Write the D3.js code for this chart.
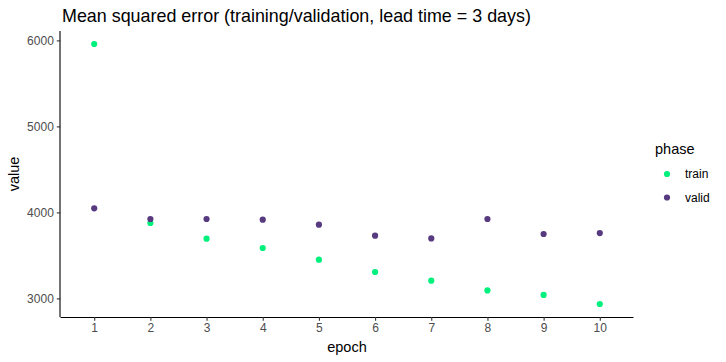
<!DOCTYPE html>
<html>
<head>
<meta charset="utf-8">
<script src="https://cdn.jsdelivr.net/npm/d3@7"></script>
<style>
  body { margin: 0; background: #fff; }
  svg text { font-family: "Liberation Sans", Arial, sans-serif; }
</style>
</head>
<body>
<svg id="chart" width="726" height="362"></svg>
<script>
// values
const epochs = [1, 2, 3, 4, 5, 6, 7, 8, 9, 10]
const trainMse = [5958, 3877, 3694, 3586, 3450, 3307, 3206, 3093, 3040, 2935]
const validMse = [4047, 3923, 3923, 3915, 3857, 3729, 3698, 3923, 3749, 3760]
const phases = ['train', 'valid']
const yTicks = [3000, 4000, 5000, 6000]

const colors = { train: '#00f07e', valid: '#573a80' }
const panel = { left: 60.5, right: 633.5, top: 31, bottom: 317 }

const svg = d3.select('#chart')

// long format, like the data frame behind the plot
let points = []
epochs.forEach((e, i) => {
    points.push({ epoch: e, value: trainMse[i], phase: 'train' })
    points.push({ epoch: e, value: validMse[i], phase: 'valid' })
})

// discrete x scale, 0.6 padding on each side
const x = d3.scaleLinear()
    .domain([0.4, 10.6])
    .range([panel.left, panel.right])

const allVals = points.map(d => d.value)
const lo = d3.min(allVals), hi = d3.max(allVals)
const pad = (hi - lo) * 0.05
const y = d3.scaleLinear()
    .domain([lo - pad, hi + pad])
    .range([panel.bottom, panel.top])

const color = d3.scaleOrdinal().domain(phases).range(phases.map(p => colors[p]))

// axes
const xAxis = svg.append('g')
    .attr('transform', `translate(0,${panel.bottom})`)
    .call(d3.axisBottom(x).tickValues(epochs).tickSize(3.7).tickPadding(3).tickFormat(d3.format('d')))
const yAxis = svg.append('g')
    .attr('transform', `translate(${panel.left},0)`)
    .call(d3.axisLeft(y).tickValues(yTicks).tickSize(3.7).tickPadding(3).tickFormat(d3.format('d')))

;[xAxis, yAxis].forEach(ax => {
    ax.select('.domain').attr('stroke', '#000').attr('stroke-width', 1.1)
    ax.selectAll('.tick line').attr('stroke', '#333').attr('stroke-width', 1.1)
    ax.selectAll('.tick text')
        .attr('fill', '#4d4d4d')
        .style('font-size', '12px')
        .style('font-family', '"Liberation Sans", Arial, sans-serif')
})
// ggplot draws the axis line straight, no outer ticks
xAxis.select('.domain').attr('d', `M${panel.left},0.5H${panel.right}`)
yAxis.select('.domain').attr('d', `M-0.5,${panel.bottom}V${panel.top}`)

// points
svg.append('g')
    .selectAll('circle')
    .data(points)
    .enter()
        .append('circle')
        .attr('cx', d => x(d.epoch))
        .attr('cy', d => y(d.value))
        .attr('r', 3.1)
        .attr('fill', d => color(d.phase))

// titles
svg.append('text')
    .attr('x', 62)
    .attr('y', 22)
    .style('font-size', '17.9px')
    .attr('fill', '#000')
    .text('Mean squared error (training/validation, lead time = 3 days)')

svg.append('text')
    .attr('x', (panel.left + panel.right) / 2)
    .attr('y', 352)
    .attr('text-anchor', 'middle')
    .style('font-size', '14.5px')
    .text('epoch')

svg.append('text')
    .attr('transform', `translate(19,${(panel.top + panel.bottom) / 2}) rotate(-90)`)
    .attr('text-anchor', 'middle')
    .style('font-size', '14.5px')
    .text('value')

// legend
const legend = svg.append('g').attr('transform', 'translate(655,0)')
legend.append('text')
    .attr('x', 0)
    .attr('y', 154)
    .style('font-size', '14.5px')
    .text('phase')

const keys = legend.selectAll('.key')
    .data(phases)
    .enter()
        .append('g')
        .attr('class', 'key')
        .attr('transform', (d, i) => `translate(0,${174 + i * 23.5})`)
keys.append('circle')
    .attr('cx', 12)
    .attr('cy', 0)
    .attr('r', 3.1)
    .attr('fill', d => color(d))
keys.append('text')
    .attr('x', 30)
    .attr('y', 4)
    .style('font-size', '12px')
    .attr('fill', '#000')
    .text(d => d)
</script>
</body>
</html>
